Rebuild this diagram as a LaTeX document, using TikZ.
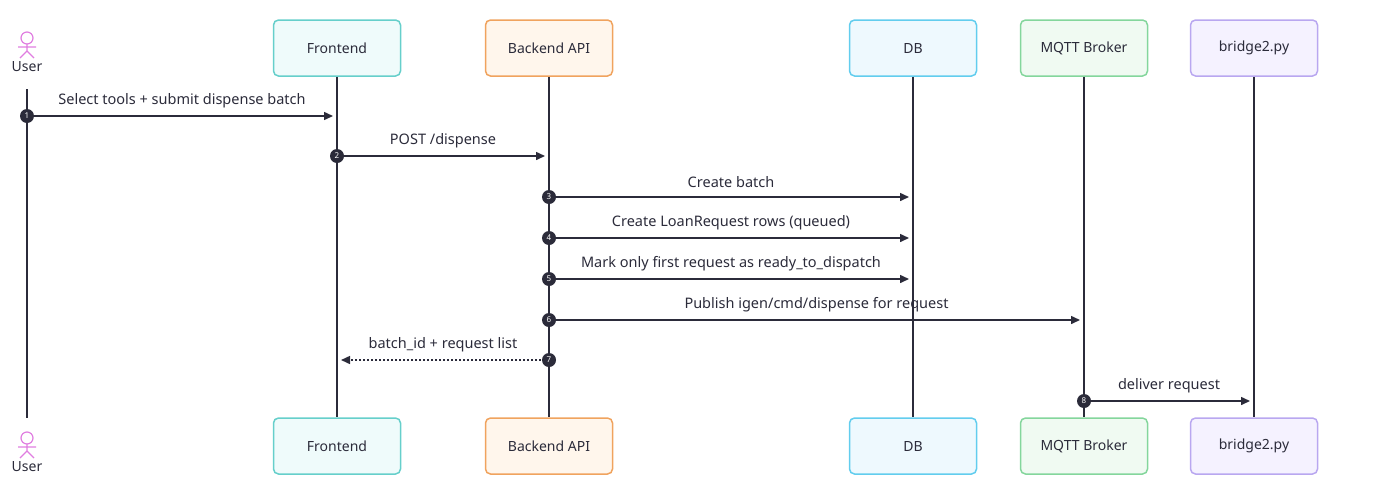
\documentclass[tikz,border=0pt]{standalone}
\usepackage{fontspec}
\setmainfont{Noto Sans}
\usetikzlibrary{arrows.meta,calc}
\definecolor{ink}{HTML}{2B2B3A}
\definecolor{act}{HTML}{E07EE0}
\begin{document}
\begin{tikzpicture}[x=1pt,y=-1pt,font=\fontsize{14}{16}\selectfont,
 life/.style={ink,line width=1.5pt},
 msg/.style={ink,line width=1.5pt,-{Triangle[length=9pt,width=8pt]}},
 num/.style={circle,fill=ink,text=white,inner sep=0pt,minimum size=14pt,font=\fontsize{8}{8}\selectfont\bfseries},
 lbl/.style={text=ink,font=\fontsize{14.5}{16}\selectfont}]
\useasboundingbox (0,0) rectangle (1386,501);
\definecolor{cF}{HTML}{66CFCB}\definecolor{fF}{HTML}{EFFBFB}
\definecolor{cB}{HTML}{F0A35E}\definecolor{fB}{HTML}{FFF6EC}
\definecolor{cD}{HTML}{62CDEE}\definecolor{fD}{HTML}{EEF9FE}
\definecolor{cM}{HTML}{84D69C}\definecolor{fM}{HTML}{F0FAF2}
\definecolor{cP}{HTML}{B9A7F0}\definecolor{fP}{HTML}{F5F2FF}
\foreach \n/\t/\x/\c in {F/Frontend/337/F,B/Backend API/549/B,D/DB/913/D,M/MQTT Broker/1084/M,P/bridge2.py/1254/P}{
  \node[draw=c\c,fill=f\c,line width=1.5pt,rounded corners=5pt,minimum width=127pt,minimum height=56pt,text=ink] (\n t) at (\x,48) {\t};
  \node[draw=c\c,fill=f\c,line width=1.5pt,rounded corners=5pt,minimum width=127pt,minimum height=56pt,text=ink] (\n b) at (\x,446) {\t};
}
\foreach \n in {F,B,D,M,P}{\draw[life] (\n t.south) -- (\n b.north);}
% actors
\foreach \y/\nm in {0/Ut,400/Ub}{
 \begin{scope}[yshift=-\y,act,line width=1.2pt]
  \draw (27,38) circle (6);
  \draw (27,44) -- (27,51) (18,47) -- (36,47) (27,51) -- (20,58) (27,51) -- (34,58);
 \end{scope}
 \node[text=ink] (\nm) at (27,67+\y) {User};
}
\coordinate (Us) at (27,89); \coordinate (Ue) at (27,418);
\draw[life] (Us) -- (Ue);
% messages
\foreach \s/\d/\y/\t/\k in {Us/F/116/{Select tools + submit dispense batch}/1, Ft/B/156/{POST /dispense}/2, Bt/D/197/{Create batch}/3, Bt/D/238/{Create LoanRequest rows (queued)}/4, Bt/D/279/{Mark only first request as ready\_to\_dispatch}/5, Bt/M/320/{Publish igen/cmd/dispense for request}/6, Mt/P/401/{deliver request}/8}{
  \coordinate (s\k) at (\s |- 0,\y); \coordinate (e\k) at (\d t |- 0,\y);
  \draw[msg] (s\k) -- ([xshift=-4pt]e\k);
  \node[lbl] at ($(s\k)!0.5!(e\k)+(0,-15)$) {\t};
  \node[num] at (s\k) {\k};
}
\coordinate (s7) at (Bt |- 0,360); \coordinate (e7) at (Ft |- 0,360);
\draw[msg,dash pattern=on 2pt off 2pt] (s7) -- ([xshift=4pt]e7);
\node[lbl] at ($(s7)!0.5!(e7)+(0,-15)$) {batch\_id + request list};
\node[num] at (s7) {7};
\end{tikzpicture}
\end{document}
